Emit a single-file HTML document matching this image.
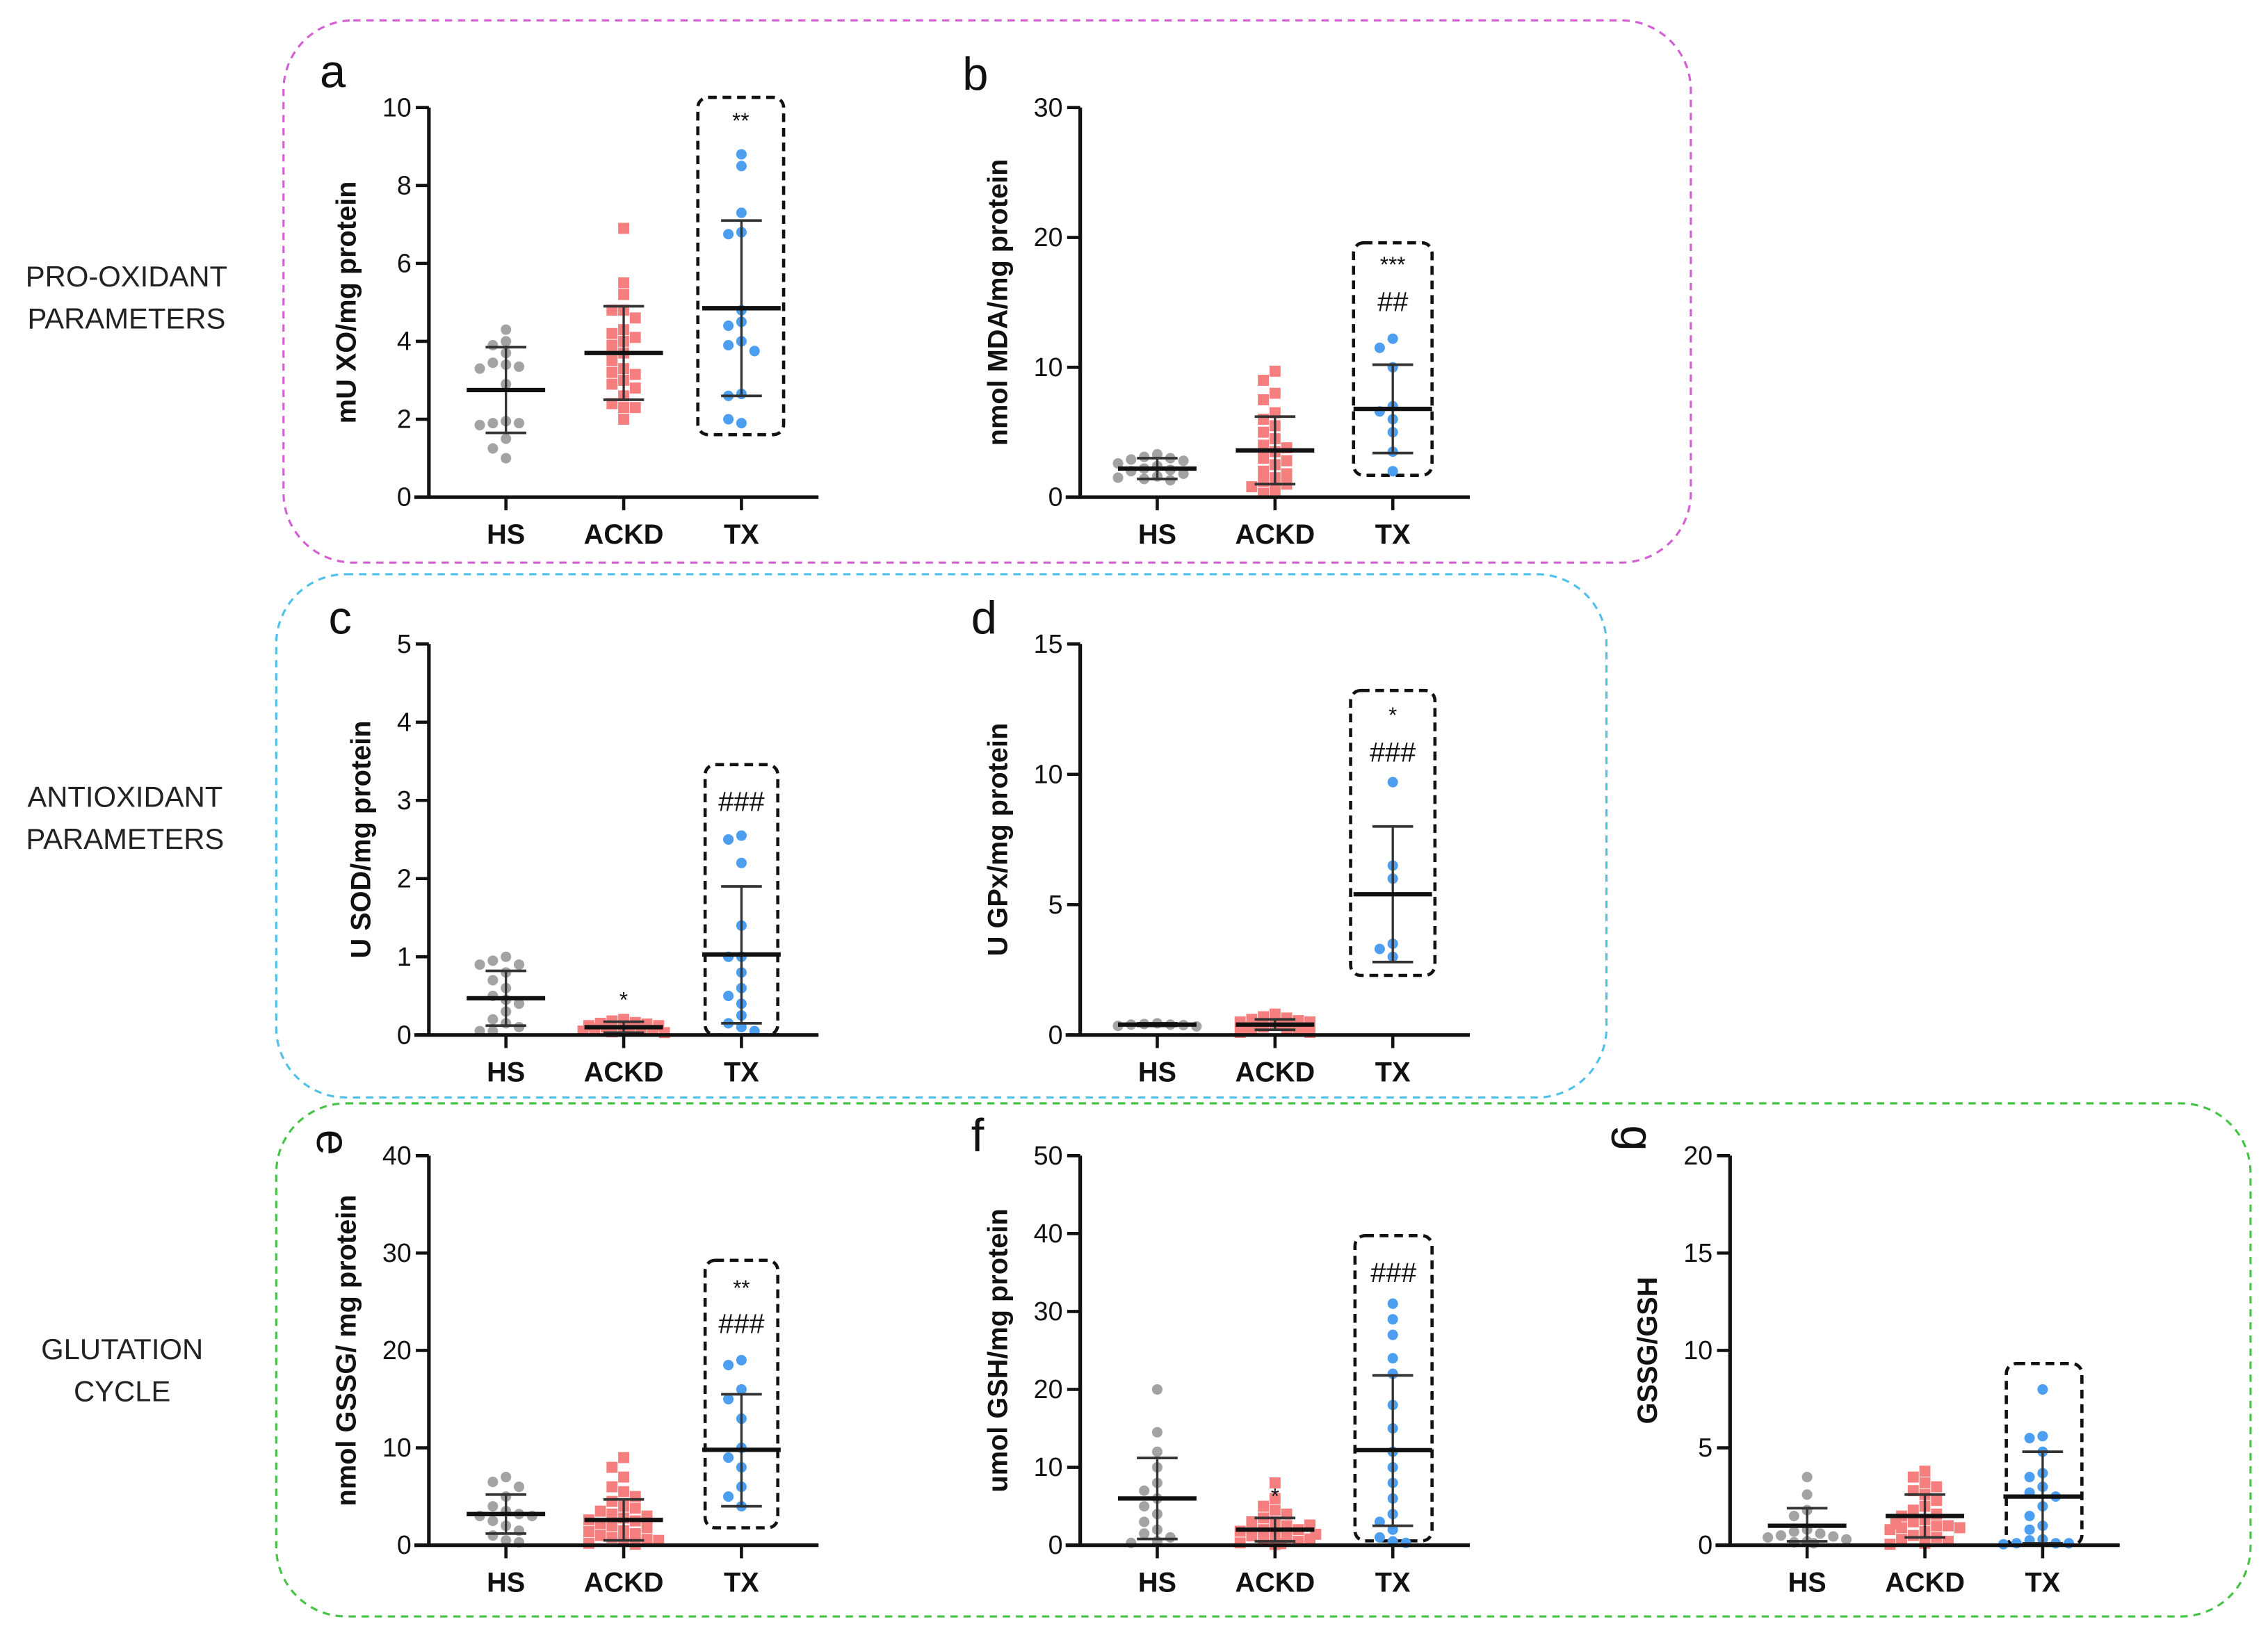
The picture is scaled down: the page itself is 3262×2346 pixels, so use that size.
<!DOCTYPE html>
<html><head><meta charset="utf-8"><style>
html,body{margin:0;padding:0;background:#fff;}
svg{display:block;}
text{font-family:"Liberation Sans",Arial,sans-serif;}
</style></head><body>
<svg id="fig" width="3262" height="2346" viewBox="0 0 1560 1122" preserveAspectRatio="none" xmlns="http://www.w3.org/2000/svg">
<rect x="0" y="0" width="1560" height="1122" fill="#fff"/>
<rect x="195" y="14" width="968" height="373" rx="48" fill="none" stroke="#d45fd4" stroke-width="1.5" stroke-dasharray="5,4"/>
<rect x="190" y="395" width="915" height="360" rx="48" fill="none" stroke="#4ec0ea" stroke-width="1.5" stroke-dasharray="5,4"/>
<rect x="190" y="759" width="1358" height="353" rx="48" fill="none" stroke="#44c444" stroke-width="1.5" stroke-dasharray="5,4"/>
<g font-size="20" fill="#222" text-anchor="middle">
<text x="87" y="197">PRO-OXIDANT</text>
<text x="87" y="226">PARAMETERS</text>
<text x="86" y="555">ANTIOXIDANT</text>
<text x="86" y="584">PARAMETERS</text>
<text x="84" y="935">GLUTATION</text>
<text x="84" y="964">CYCLE</text>
</g>
<g id="plots"></g>
</svg>
<script>
const categories = ["HS","ACKD","TX"];
// panel a: mU XO/mg protein
const aHS = [4.3,4.0,3.9,3.7,3.45,3.4,3.35,3.3,2.9,1.95,1.9,1.9,1.85,1.5,1.25,1.0];
const aACKD = [6.9,5.5,5.2,4.8,4.8,4.6,4.3,4.2,4.1,4.0,3.9,3.7,3.5,3.3,3.2,3.15,3.0,2.9,2.8,2.6,2.4,2.3,2.3,2.0];
const aTX = [8.8,8.5,7.3,6.8,6.75,4.8,4.5,4.4,4.0,3.9,3.75,2.65,2.6,1.9,2.0];
const aMean = [2.75,3.7,4.85];
const aLo = [1.65,2.5,2.6];
const aHi = [3.85,4.9,7.1];
// panel b: nmol MDA/mg protein
const bHS = [3.3,3.1,3.0,2.9,2.8,2.6,2.4,2.2,2.1,2.0,1.8,1.6,1.5,1.4,1.3];
const bACKD = [9.7,9.0,8.0,7.5,6.5,6.0,5.5,5.0,4.5,4.0,3.8,3.5,3.0,2.8,2.5,2.0,1.8,1.5,1.2,1.0,0.8,0.5,0.3];
const bTX = [12.2,11.5,10.0,7.0,6.6,6.0,5.0,3.5,2.0];
const bMean = [2.2,3.6,6.8];
const bLo = [1.4,1.0,3.4];
const bHi = [3.0,6.2,10.2];
// panel c: U SOD/mg protein
const cHS = [1.0,0.95,0.9,0.9,0.8,0.7,0.6,0.5,0.45,0.4,0.3,0.2,0.15,0.1,0.05,0.05];
const cACKD = [0.2,0.18,0.16,0.15,0.14,0.12,0.12,0.1,0.1,0.08,0.08,0.06,0.05,0.05,0.04,0.03];
const cTX = [2.55,2.5,2.2,1.4,1.0,1.0,0.8,0.6,0.5,0.4,0.25,0.15,0.1,0.05];
const cMean = [0.47,0.1,1.03];
const cLo = [0.12,0.03,0.15];
const cHi = [0.82,0.17,1.9];
// panel d: U GPx/mg protein
const dHS = [0.45,0.42,0.4,0.4,0.38,0.35,0.33];
const dACKD = [0.8,0.7,0.65,0.6,0.55,0.5,0.5,0.45,0.4,0.4,0.35,0.3,0.3,0.25,0.2,0.2,0.15,0.1,0.1];
const dTX = [9.7,6.5,6.0,3.5,3.3,3.0];
const dMean = [0.4,0.4,5.4];
const dLo = [0.35,0.2,2.8];
const dHi = [0.45,0.6,8.0];
// panel e: nmol GSSG/mg protein
const eHS = [7.0,6.5,6.0,5.0,4.0,3.5,3.2,3.0,3.0,2.5,2.0,1.5,1.0,0.5,0.3];
const eACKD = [9.0,8.0,7.0,6.0,5.5,5.0,4.5,4.0,3.8,3.5,3.2,3.0,2.8,2.5,2.2,2.0,1.8,1.5,1.2,1.0,0.8,0.6,0.4,0.2,0.1,1.4,2.6,0.5];
const eTX = [19.0,18.5,16.0,15.0,13.0,10.0,9.0,8.0,6.0,5.0,4.0];
const eMean = [3.2,2.6,9.8];
const eLo = [1.2,0.5,4.0];
const eHi = [5.2,4.7,15.5];
// panel f: umol GSH/mg protein
const fHS = [20,14.5,12,10,8,7,6,5,4,3,2,1.5,1,0.5,0.3];
const fACKD = [8,6,5,4.5,4,3.5,3,3,2.5,2,2,1.8,1.5,1.2,1,0.8,0.6,0.5,0.3,0.2,0.1,1.4,2.6];
const fTX = [31,29,27,24,22,18,15,12,10,8,6,4,3,2,1,0.5,0.3];
const fMean = [6.0,2.0,12.2];
const fLo = [0.8,0.5,2.5];
const fHi = [11.2,3.5,21.8];
// panel g: GSSG/GSH
const gHS = [3.5,2.6,1.8,1.5,0.8,0.7,0.6,0.5,0.45,0.4,0.3,0.2,0.15,0.1];
const gACKD = [3.8,3.5,3.2,3.0,2.8,2.6,2.3,2.0,1.8,1.6,1.5,1.3,1.2,1.0,1.0,0.9,0.8,0.7,0.5,0.4,0.3,0.2,0.1,0.05,0.9,1.1];
const gTX = [8.0,5.6,5.5,4.8,3.7,3.5,3.0,2.7,2.5,2.0,1.5,1.0,0.8,0.3,0.25,0.1,0.1,0.1,0.05];
const gMean = [1.0,1.5,2.5];
const gLo = [0.2,0.4,0.1];
const gHi = [1.9,2.6,4.8];

const yMaxes = [10,30,5,15,40,50,20];
const yTicks = [[0,2,4,6,8,10],[0,10,20,30],[0,1,2,3,4,5],[0,5,10,15],[0,10,20,30,40],[0,10,20,30,40,50],[0,5,10,15,20]];
const yTitles = ["mU XO/mg protein","nmol MDA/mg protein","U SOD/mg protein","U GPx/mg protein","nmol GSSG/ mg protein","umol GSH/mg protein","GSSG/GSH"];
const letters = ["a","b","c","d","e","f","g"];
const annotations = [["**"],["***","##"],["###"],["*","###"],["**","###"],["###"],[]];
const groupStars = [[],[],["","*",""],[],[],["","*",""],[]];

// layout (pixels, not data)
const layout = [
 {ax:295,y0:342,top:74,letter:[220,60],rot:false,box:[480,67,59,232],annY:[88]},
 {ax:743,y0:342,top:74,letter:[662,62],rot:false,box:[931,167,54,160],annY:[187,214]},
 {ax:295,y0:712,top:443,letter:[226,436],rot:false,box:[485,526,50,186],annY:[558]},
 {ax:743,y0:712,top:443,letter:[668,436],rot:false,box:[929,475,58,196],annY:[497,524]},
 {ax:295,y0:1063,top:795,letter:[220,795],rot:true,box:[485,867,50,184],annY:[891,917]},
 {ax:743,y0:1063,top:795,letter:[668,792],rot:false,box:[932,850,53,210],annY:[882]},
 {ax:1190,y0:1063,top:795,letter:[1117,792],rot:true,box:[1380,938,52,125],annY:[]}
];
const series = [[aHS,aACKD,aTX],[bHS,bACKD,bTX],[cHS,cACKD,cTX],[dHS,dACKD,dTX],[eHS,eACKD,eTX],[fHS,fACKD,fTX],[gHS,gACKD,gTX]];
const means = [aMean,bMean,cMean,dMean,eMean,fMean,gMean];
const los = [aLo,bLo,cLo,dLo,eLo,fLo,gLo];
const his = [aHi,bHi,cHi,dHi,eHi,fHi,gHi];
const colors = ["#a3a3a3","#f57e7e","#4c9ff0"];

const NS="http://www.w3.org/2000/svg";
const root=document.getElementById('plots');
function mk(tag,attrs,parent){const e=document.createElementNS(NS,tag);for(const k in attrs)e.setAttribute(k,attrs[k]);(parent||root).appendChild(e);return e;}

series.forEach((grp,p)=>{
  const L=layout[p];
  const g=mk('g',{});
  
  
  const yS=v=>L.y0-(v/yMaxes[p])*(L.y0-L.top);
  const xS=i=>L.ax+53+i*81;
  const lt=mk('text',{x:L.letter[0],y:L.letter[1],'font-size':32,fill:'#111'},g);
  lt.textContent=letters[p];
  
  
  if(L.rot){lt.setAttribute('transform','rotate(90 '+(L.letter[0]+8)+' '+(L.letter[1]-10)+')');}
  const b=mk('rect',{x:L.box[0],y:L.box[1],width:L.box[2],height:L.box[3],rx:7,fill:'none',stroke:'#111','stroke-width':2.2,'stroke-dasharray':'6,4'},g);
  
  
  annotations[p].forEach((s,k)=>{
    const t=mk('text',{x:L.box[0]+L.box[2]/2,y:L.annY[k],'font-size':s.indexOf('#')>=0?19:15,'text-anchor':'middle',fill:'#111'},g);
    t.textContent=s;
    
    
  });
  grp.forEach((vals,i)=>{
    const placed=[];
    const seq=[0,-1,1,-2,2,-3,3];
    vals.forEach((v,n)=>{
      const py=yS(v);
      const near=placed.filter(q=>Math.abs(q.y-py)<7);
      const used=new Set(near.map(q=>q.s));
      let s=null;
      for(const c of seq){if(!used.has(c)){s=c;break;}}
      if(s===null){s=seq[near.length%seq.length]+(near.length%2?0.5:-0.5);}
      placed.push({y:py,s:s});
      const px=xS(i)+s*(i===1?8:9);
      let m;
      if(i===1){m=mk('rect',{x:px-3.8,y:py-3.8,width:7.6,height:7.6,fill:colors[i]},g);}
      else{m=mk('circle',{cx:px,cy:py,r:3.6,fill:colors[i]},g);}
      
      
    });
  });
  categories.forEach((c,i)=>{
    const cx=xS(i);
    const w=mk('line',{x1:cx,x2:cx,y1:yS(los[p][i]),y2:yS(his[p][i]),stroke:'#333','stroke-width':1.6},g);
    
    
    [los[p][i],his[p][i]].forEach(v=>{
      const cap=mk('line',{x1:cx-14,x2:cx+14,y1:yS(v),y2:yS(v),stroke:'#333','stroke-width':1.8},g);
      
      
    });
    const mn=mk('line',{x1:cx-27,x2:cx+27,y1:yS(means[p][i]),y2:yS(means[p][i]),stroke:'#111','stroke-width':3},g);
    
    
    const st=(groupStars[p][i]||'');
    if(st){const t=mk('text',{x:cx,y:yS(his[p][i])-10,'font-size':15,'text-anchor':'middle',fill:'#111'},g);t.textContent=st;
      
      }
  });
  const ya=mk('line',{x1:L.ax,x2:L.ax,y1:L.top,y2:L.y0+1,stroke:'#111','stroke-width':2.5},g);
  
  
  const xa=mk('line',{x1:L.ax-10,x2:L.ax+268,y1:L.y0,y2:L.y0,stroke:'#111','stroke-width':2.5},g);
  
  
  yTicks[p].forEach(t=>{
    const y=yS(t);
    const tk=mk('line',{x1:L.ax-9,x2:L.ax,y1:y,y2:y,stroke:'#111','stroke-width':2.2},g);
    
    
    const tl=mk('text',{x:L.ax-12,y:y+6,'font-size':18,'text-anchor':'end',fill:'#111'},g);
    tl.textContent=t;
    
    
  });
  categories.forEach((c,i)=>{
    const cx=xS(i);
    const tk=mk('line',{x1:cx,x2:cx,y1:L.y0,y2:L.y0+9,stroke:'#111','stroke-width':2.2},g);
    
    
    const tl=mk('text',{x:cx,y:L.y0+32,'font-size':19,'font-weight':'bold','text-anchor':'middle',fill:'#111'},g);
    tl.textContent=c;
    
    
  });
  const maxLen=Math.max(...yTicks[p].map(t=>String(t).length));
  const lx=L.ax-(maxLen===1?47:57), ly=(L.top+L.y0)/2;
  const yt=mk('text',{x:lx,y:ly,'font-size':19,'font-weight':'bold','text-anchor':'middle',fill:'#111',transform:'rotate(-90 '+lx+' '+ly+')',dy:'0.35em'},g);
  yt.textContent=yTitles[p];
  
  
});
</script>
</body></html>
